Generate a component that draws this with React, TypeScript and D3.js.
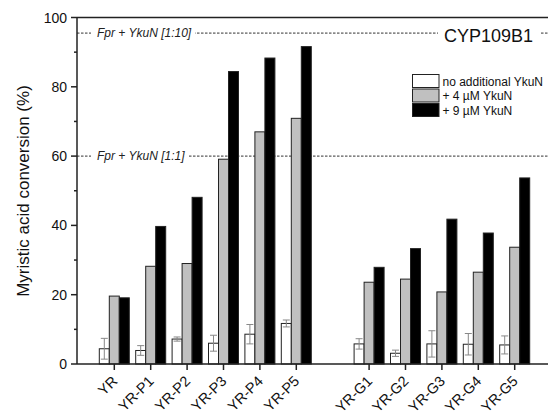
import React from 'react';
import * as d3 from 'd3';

// categories and their slot on the x axis (slot 7 is left empty as a gap)
const categories = ['YR', 'YR-P1', 'YR-P2', 'YR-P3', 'YR-P4', 'YR-P5', 'YR-G1', 'YR-G2', 'YR-G3', 'YR-G4', 'YR-G5'];
const slots = [1, 2, 3, 4, 5, 6, 8, 9, 10, 11, 12];

const noYkuN = [4.4, 3.9, 7.2, 6.0, 8.6, 11.7, 5.8, 3.1, 5.8, 5.7, 5.5];
const noYkuNErr = [3.0, 1.4, 0.6, 2.3, 2.8, 1.0, 1.5, 0.9, 3.8, 3.1, 2.6];
const ykuN4 = [19.6, 28.2, 29.0, 59.1, 67.0, 70.9, 23.6, 24.5, 20.8, 26.5, 33.7];
const ykuN9 = [19.1, 39.7, 48.1, 84.4, 88.3, 91.6, 27.9, 33.3, 41.8, 37.8, 53.7];

const seriesNames = ['no additional YkuN', '+ 4 \u00b5M YkuN', '+ 9 \u00b5M YkuN'];
const seriesFill = ['#ffffff', '#c0c0c0', '#000000'];

const refLevels = [95.5, 60];
const refLabels = ['Fpr + YkuN [1:10]', 'Fpr + YkuN [1:1]'];

const W = 548;
const H = 416;
const left = 77;
const bottom = 364;
const top = 17.5;

export default function App() {
  const y = d3.scaleLinear().domain([0, 100]).range([bottom, top]);
  const x = d3.scaleLinear().domain([0, 12]).range([77.9, 514.7]);
  const barW = 10;
  const font = 'Arial, "Liberation Sans", sans-serif';
  const series = [noYkuN, ykuN4, ykuN9];

  const major = d3.range(0, 101, 20);
  const minor = d3.range(10, 100, 20);

  return (
    <svg width={W} height={H} style={{ position: 'absolute', left: 0, top: 0 }} fontFamily={font}>
      <rect width={W} height={H} fill="#fff" />

      {/* reference lines with their labels */}
      {refLevels.map((v, i) => (
        <g key={'ref' + i}>
          <line x1={left} x2={W} y1={y(v)} y2={y(v)} stroke="#333" strokeWidth={1} strokeDasharray="2.5,1.5" />
          <rect x={91} y={y(v) - 7} width={i === 0 ? 104 : 98} height={14} fill="#fff" />
          <text x={97} y={y(v)} dy="0.35em" fontSize={12} fontStyle="italic" fill="#222">{refLabels[i]}</text>
        </g>
      ))}
      <rect x={438} y={y(95.5) - 9} width={103} height={18} fill="#fff" />
      <text x={444} y={41.5} fontSize={18} fill="#111">CYP109B1</text>

      {/* bars */}
      {categories.map((c, ci) => (
        <g key={c}>
          {series.map((s, si) => (
            <rect key={si} x={x(slots[ci]) - 15 + si * barW} y={y(s[ci])} width={barW} height={y(0) - y(s[ci])}
              fill={seriesFill[si]} stroke="#222" strokeWidth={1} />
          ))}
          <g stroke="#888" strokeWidth={1}>
            <line x1={x(slots[ci]) - 10} x2={x(slots[ci]) - 10} y1={y(noYkuN[ci] + noYkuNErr[ci])} y2={y(noYkuN[ci] - noYkuNErr[ci])} />
            <line x1={x(slots[ci]) - 13.5} x2={x(slots[ci]) - 6.5} y1={y(noYkuN[ci] + noYkuNErr[ci])} y2={y(noYkuN[ci] + noYkuNErr[ci])} />
            <line x1={x(slots[ci]) - 13.5} x2={x(slots[ci]) - 6.5} y1={y(noYkuN[ci] - noYkuNErr[ci])} y2={y(noYkuN[ci] - noYkuNErr[ci])} />
          </g>
        </g>
      ))}

      {/* axes */}
      <line x1={left} x2={W} y1={top} y2={top} stroke="#222" strokeWidth={1.5} />
      <line x1={left} x2={W} y1={bottom} y2={bottom} stroke="#222" strokeWidth={1.5} />
      <line x1={left} x2={left} y1={top} y2={bottom} stroke="#222" strokeWidth={1.5} />
      {major.map(t => (
        <g key={'yt' + t}>
          <line x1={left - 6} x2={left} y1={y(t)} y2={y(t)} stroke="#222" strokeWidth={1.5} />
          <text x={left - 10} y={y(t)} dy="0.36em" textAnchor="end" fontSize={14} fill="#111">{t}</text>
        </g>
      ))}
      {minor.map(t => (
        <line key={'ym' + t} x1={left - 3} x2={left} y1={y(t)} y2={y(t)} stroke="#222" strokeWidth={1.5} />
      ))}
      {categories.map((c, ci) => (
        <g key={'xt' + c}>
          <line x1={x(slots[ci])} x2={x(slots[ci])} y1={bottom} y2={bottom + 6} stroke="#222" strokeWidth={1.5} />
          <text transform={`translate(${x(slots[ci]) + 4},${bottom + 18}) rotate(-45)`} textAnchor="end" fontSize={14.5} fill="#111">{c}</text>
        </g>
      ))}
      <text transform={`translate(29,191) rotate(-90)`} textAnchor="middle" fontSize={17} fill="#111">Myristic acid conversion (%)</text>

      {/* legend */}
      {seriesNames.map((n, i) => (
        <g key={n} transform={`translate(412.5,${74.5 + i * 14.5})`}>
          <rect width={26.5} height={13} fill={seriesFill[i]} stroke="#222" strokeWidth={1} />
          <text x={30} y={11} fontSize={12} fill="#111">{n}</text>
        </g>
      ))}
    </svg>
  );
}
